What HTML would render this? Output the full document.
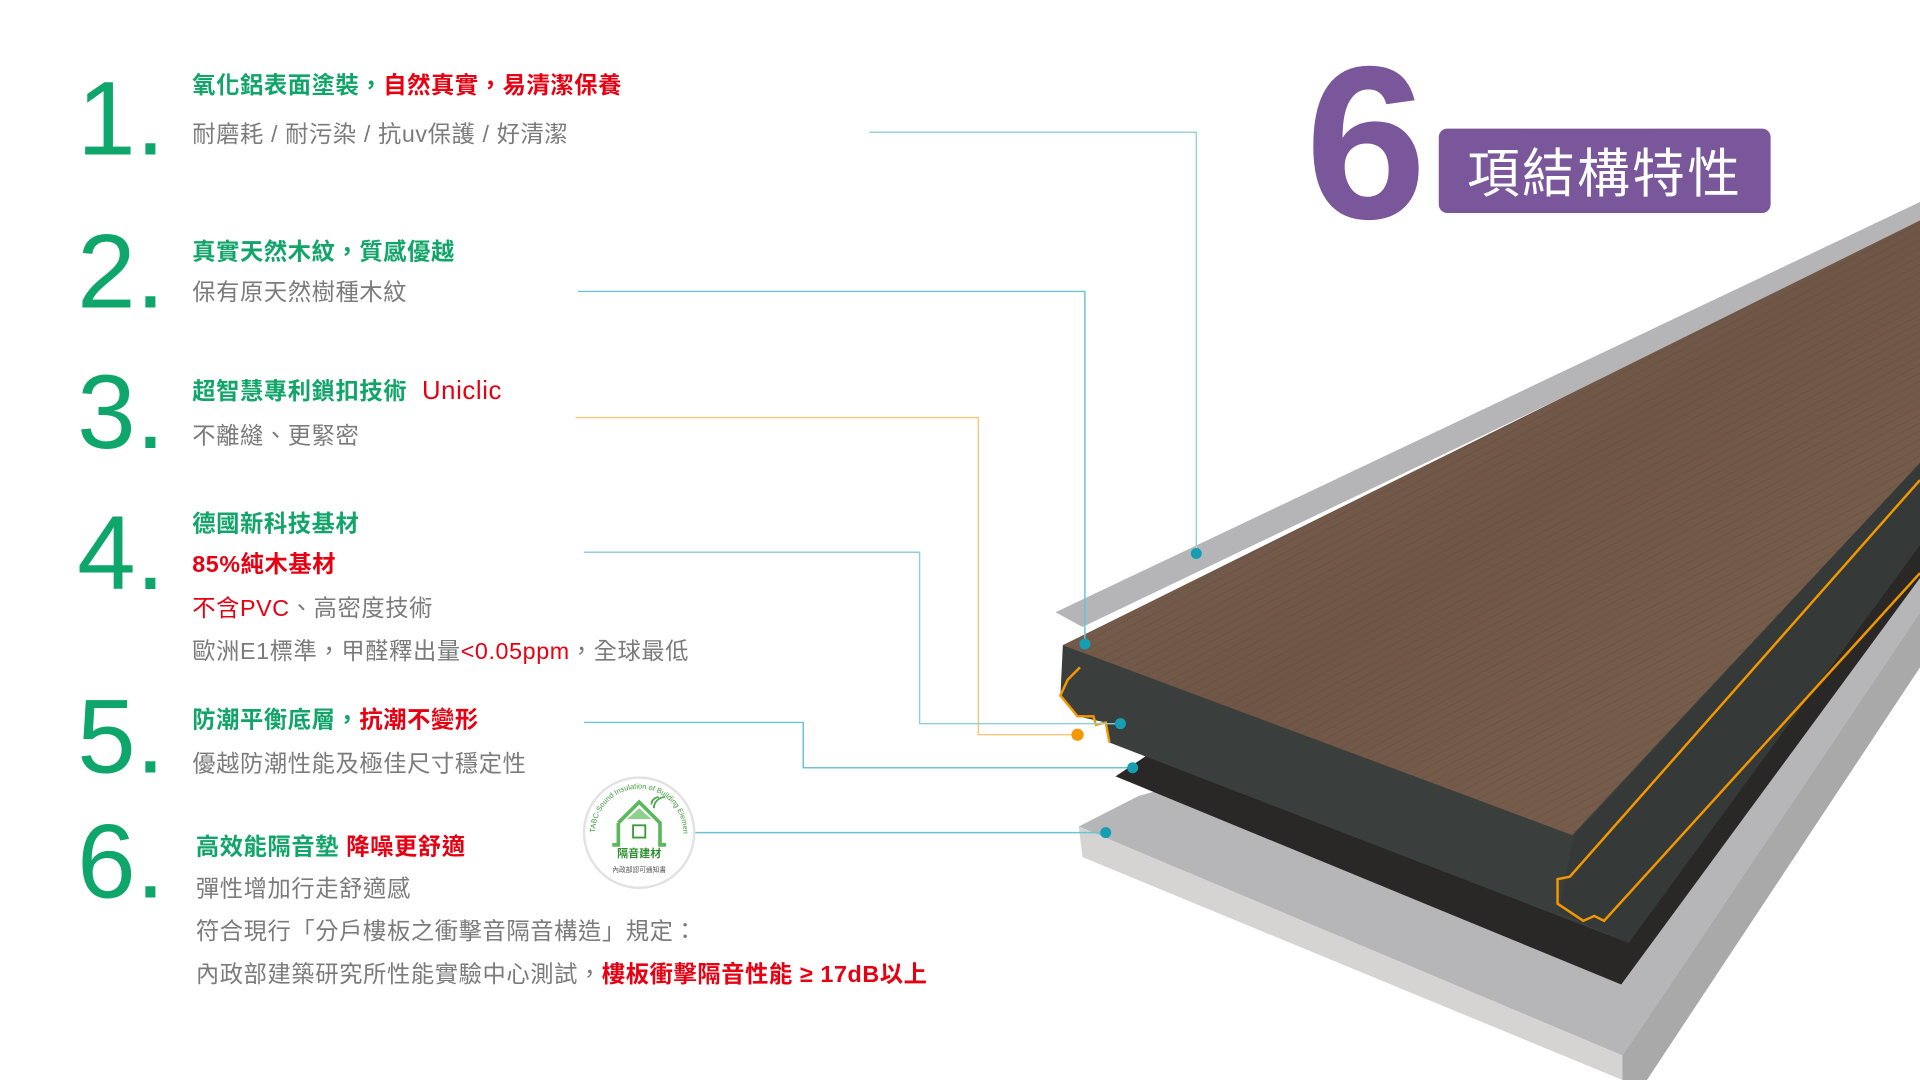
<!DOCTYPE html>
<html><head><meta charset="utf-8">
<style>
html,body{margin:0;padding:0;background:#fff;width:1920px;height:1080px;overflow:hidden}
#s{position:absolute;left:0;top:0;width:1568px;height:882px;transform:scale(1.22449);transform-origin:0 0;font-family:"Liberation Sans","Noto Sans CJK TC",sans-serif}
.n{position:absolute;left:63px;font-size:86px;line-height:1;color:#0fa66c}
.t{position:absolute;left:157px;line-height:1;white-space:nowrap;letter-spacing:0.5px}
.g{color:#12a56a;font-weight:bold;font-size:19px}
.r{color:#e60012}
.s{color:#7b7b7b;font-size:19px}
</style></head><body>
<div id="s">
<svg width="1568" height="882" style="position:absolute;left:0;top:0">
<defs>
<linearGradient id="wd" x1="0" y1="0" x2="1" y2="1">
<stop offset="0" stop-color="#7d6452"/><stop offset=".5" stop-color="#6f5646"/><stop offset="1" stop-color="#7b624f"/></linearGradient>
<pattern id="gr" width="12" height="6" patternUnits="userSpaceOnUse" patternTransform="rotate(-28)">
<rect width="12" height="6" fill="none"/><line x1="0" y1="3" x2="12" y2="3" stroke="#5e4738" stroke-width="1" opacity=".3"/></pattern>
</defs>
<!-- bottom board -->
<polygon points="881,675 930,650 1568,470 1568,500 1325,862" fill="#b6b6b8"/>
<polygon points="881,675 1325,862 1325,882 884,700" fill="#d5d4d3"/>
<polygon points="1325,862 1568,500 1568,545 1345,882 1325,882" fill="#a9a9aa"/>
<!-- black underlay -->
<polygon points="911,634 935,618 1568,390 1568,472 1324,804" fill="#2a2826"/>
<!-- dark core -->
<polygon points="868,527 1568,180 1568,445 1330,770 905,606 903,590 880,585 866,568" fill="#3a3e3d"/>
<polygon points="1285,683 1568,378 1568,445 1330,770 1273,745" fill="#353938"/>
<!-- orange profile lines -->
<polyline points="882,545 872,555 866,568 880,585 893,585 895,592 903,590 906,606" fill="none" stroke="#f39800" stroke-width="2"/>
<polyline points="1568,392 1282,716 1272,718 1272,738 1293,752 1302,748 1310,752 1568,468" fill="none" stroke="#f39800" stroke-width="2"/>
<!-- top grey film -->
<polygon points="862,500 1568,165 1568,185 884,512" fill="#b5b5b8"/>
<!-- wood -->
<polygon points="868,527 1568,180 1568,378 1284,682" fill="url(#wd)"/>
<polygon points="868,527 1568,180 1568,378 1284,682" fill="url(#gr)"/>
<!-- connectors -->
<g fill="none" stroke-width="1.2">
<polyline points="710,108 977,108 977,452" stroke="#9fd0d8"/>
<polyline points="472,238 886,238 886,526" stroke="#6cc3d2"/>
<polyline points="470,341 799,341 799,600 880,600" stroke="#f5c77e"/>
<polyline points="477,451 751,451 751,591 915,591" stroke="#8fcfd8"/>
<polyline points="477,590 656,590 656,627 925,627" stroke="#6cc3d2"/>
<polyline points="567,680 903,680" stroke="#6cc3d2"/>
</g>
<g fill="#169fb3">
<circle cx="977" cy="452" r="4.5"/><circle cx="886" cy="526" r="4.5"/>
<circle cx="915" cy="591" r="4.5"/><circle cx="925" cy="627" r="4.5"/><circle cx="903" cy="680" r="4.5"/></g>
<circle cx="880" cy="600" r="5" fill="#f39800"/>
<!-- badge -->
<circle cx="522" cy="680" r="45" fill="#fff" stroke="#e2e2e2" stroke-width="2"/>
<path d="M505 672 L522 655 L539 672 L539 690 L544 690 M505 672 L505 690 L500 690" fill="none" stroke="#5cb85c" stroke-width="3"/>
<polygon points="522,660 512,669 532,669" fill="#8fd08f"/>
<rect x="517" y="674" width="10" height="10" fill="none" stroke="#3a9a3a" stroke-width="1.5"/>
<path d="M532 657 a6 6 0 0 1 6 -6 M534 660 a9 9 0 0 1 9 -9" fill="none" stroke="#4aa84a" stroke-width="1.5"/>
<text x="522" y="700" font-size="9" fill="#2f8f2f" text-anchor="middle" font-family="Noto Sans CJK TC,sans-serif" font-weight="bold">隔音建材</text>
<text x="522" y="712" font-size="5.5" fill="#555" text-anchor="middle" font-family="Noto Sans CJK TC,sans-serif">內政部認可通知書</text>
<path id="arc" d="M486 680 A36 36 0 0 1 558 680" fill="none"/>
<text font-size="6" fill="#3a9a3a" font-family="Liberation Sans,sans-serif"><textPath href="#arc">TABC-Sound Insulation of Building Elements</textPath></text>
</svg>

<div style="position:absolute;left:1066px;top:28px;font-size:178px;font-weight:bold;line-height:1;color:#7a579b">6</div>
<div style="position:absolute;left:1175px;top:105px;width:271px;height:69px;background:#7a579b;border-radius:7px;color:#fff;font-size:43px;line-height:69px;text-align:center;font-family:'Noto Sans CJK TC',sans-serif;letter-spacing:2px">項結構特性</div>

<div class="n" style="top:54px">1.</div>
<div class="n" style="top:179px">2.</div>
<div class="n" style="top:294px">3.</div>
<div class="n" style="top:409px">4.</div>
<div class="n" style="top:559px">5.</div>
<div class="n" style="top:661px">6.</div>

<div class="t g" style="top:61px">氧化鋁表面塗裝，<span class="r">自然真實，易清潔保養</span></div>
<div class="t s" style="top:101px">耐磨耗 / 耐污染 / 抗uv保護 / 好清潔</div>
<div class="t g" style="top:197px">真實天然木紋，質感優越</div>
<div class="t s" style="top:230px">保有原天然樹種木紋</div>
<div class="t g" style="top:309px">超智慧專利鎖扣技術 <span class="r" style="font-weight:normal;font-size:21px">&nbsp;Uniclic</span></div>
<div class="t s" style="top:347px">不離縫、更緊密</div>
<div class="t g" style="top:419px">德國新科技基材</div>
<div class="t g r" style="top:452px">85%純木基材</div>
<div class="t s" style="top:488px"><span class="r">不含PVC</span>、高密度技術</div>
<div class="t s" style="top:523px">歐洲E1標準，甲醛釋出量<span class="r">&lt;0.05ppm</span>，全球最低</div>
<div class="t g" style="top:579px">防潮平衡底層，<span class="r">抗潮不變形</span></div>
<div class="t s" style="top:615px">優越防潮性能及極佳尺寸穩定性</div>
<div class="t g" style="top:683px;left:160px">高效能隔音墊 <span class="r">降噪更舒適</span></div>
<div class="t s" style="top:717px;left:160px">彈性增加行走舒適感</div>
<div class="t s" style="top:752px;left:160px">符合現行「分戶樓板之衝擊音隔音構造」規定：</div>
<div class="t s" style="top:787px;left:160px">內政部建築研究所性能實驗中心測試，<span class="r" style="font-weight:bold">樓板衝擊隔音性能 ≥ 17dB以上</span></div>
</div>
</body></html>
